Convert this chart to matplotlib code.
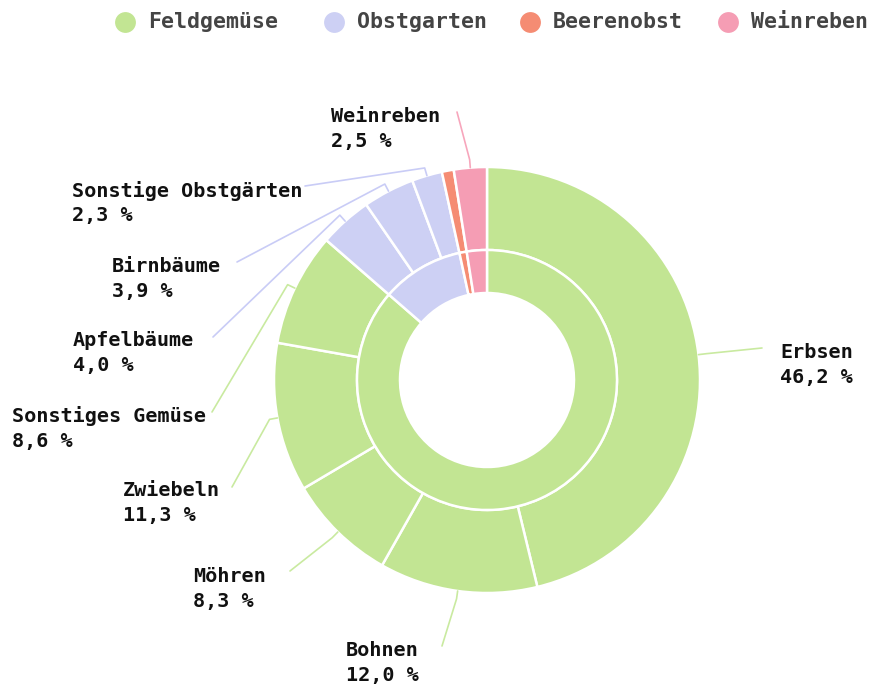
import numpy as np
import matplotlib
matplotlib.use('Agg')
import matplotlib.pyplot as plt

# categories (inner ring) and sub-categories (outer ring)
groups = ['Feldgemüse', 'Obstgarten', 'Beerenobst', 'Weinreben']
group_colors = ['#c2e593', '#cdd0f4', '#f58c73', '#f59db4']
line_colors = ['#c9eaa0', '#c9ccf6', '#f5a08c', '#f7a6bc']

outer_labels = ['Erbsen', 'Bohnen', 'Möhren', 'Zwiebeln', 'Sonstiges Gemüse',
                'Apfelbäume', 'Birnbäume', 'Sonstige Obstgärten',
                'Beerenobst', 'Weinreben']
outer_values = [46.2, 12.0, 8.3, 11.3, 8.6, 4.0, 3.9, 2.3, 0.9, 2.5]
outer_group = [0, 0, 0, 0, 0, 1, 1, 1, 2, 3]

group_values = [sum(v for v, g in zip(outer_values, outer_group) if g == i)
                for i in range(len(groups))]

# label layout (pixel coords of figure): text left x, first line y, leader end
label_pos = {
    'Erbsen': (780, 352, 762, 348),
    'Bohnen': (346, 651, 442, 646),
    'Möhren': (193, 577, 290, 571),
    'Zwiebeln': (123, 491, 232, 487),
    'Sonstiges Gemüse': (12, 416, 212, 412),
    'Apfelbäume': (73, 341, 213, 337),
    'Birnbäume': (112, 266, 237, 262),
    'Sonstige Obstgärten': (72, 191, 305, 186),
    'Weinreben': (331, 116, 457, 112),
}

W, H = 872, 689
cx, cy = 487, 380
R_out, R_mid, R_in = 213, 130, 87

fig = plt.figure(figsize=(W / 100, H / 100), dpi=100)
ax = fig.add_axes([0, 0, 1, 1])

# y axis inverted -> counterclock=True with startangle=-90 runs clockwise from top
ax.pie(outer_values, radius=R_out, center=(cx, cy), startangle=-90, counterclock=True,
       colors=[group_colors[g] for g in outer_group],
       wedgeprops=dict(width=R_out - R_mid, edgecolor='white', linewidth=1.8))
ax.pie(group_values, radius=R_mid, center=(cx, cy), startangle=-90, counterclock=True,
       colors=group_colors,
       wedgeprops=dict(width=R_mid - R_in, edgecolor='white', linewidth=1.8))

ax.set_xlim(0, W)
ax.set_ylim(H, 0)
ax.set_aspect('equal')
ax.axis('off')

mono = 'DejaVu Sans Mono'
cum = 0
for name, v, g in zip(outer_labels, outer_values, outer_group):
    mid = cum + v / 2
    cum += v
    if name not in label_pos:
        continue
    th = np.deg2rad(-90 + 360 * mid / 100)
    x0, y0 = cx + R_out * np.cos(th), cy + R_out * np.sin(th)
    x1, y1 = cx + (R_out + 8) * np.cos(th), cy + (R_out + 8) * np.sin(th)
    tx, ty, ex, ey = label_pos[name]
    ax.plot([x0, x1, ex], [y0, y1, ey], color=line_colors[g], lw=1.2,
            solid_capstyle='round', zorder=1)
    ax.text(tx, ty, name, ha='left', va='center', fontsize=14.5,
            fontweight='bold', family=mono, color='#111111')
    ax.text(tx, ty + 25, f'{v:.1f} %'.replace('.', ','), ha='left', va='center',
            fontsize=14.5, fontweight='bold', family=mono, color='#111111')

# legend
legend_x = [125, 334, 530, 728]
for x, name, col in zip(legend_x, groups, group_colors):
    ax.plot(x, 22, 'o', ms=15, color=col, mec='none', clip_on=False)
    ax.text(x + 23, 22, name, ha='left', va='center', fontsize=15.5,
            fontweight='bold', family=mono, color='#444444')

fig.savefig('out.png', dpi=100)
